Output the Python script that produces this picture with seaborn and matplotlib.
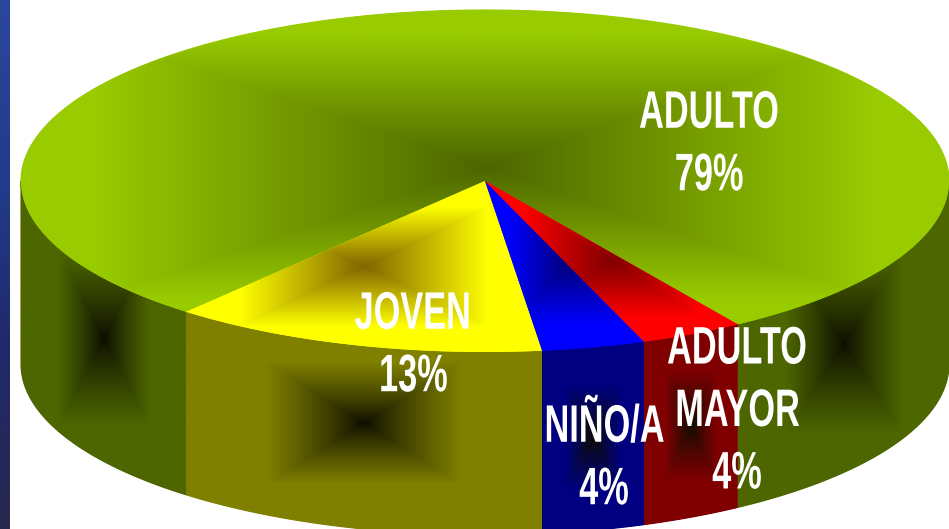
import numpy as np
import matplotlib.pyplot as plt
from matplotlib.patches import Polygon
from matplotlib.patheffects import AbstractPathEffect
from matplotlib.transforms import Affine2D
import seaborn as sns

# datos de la torta
grupos = ["ADULTO", "JOVEN", "NIÑO/A", "ADULTO\nMAYOR"]
valores = [79.7, 13.1, 3.6, 3.6]
porcentajes = [79, 13, 4, 4]

colores_top = ["#99cc00", "#ffff00", "#0000ff", "#ff0000"]
oscuros_top = ["#4d6600", "#806600", "#000080", "#800000"]
colores_lado = ["#4d6600", "#808000", "#000080", "#800000"]

# geometria en pixeles
CX, CY, RX, RY = 485, 181, 464, 171
PROF = 183
INICIO = 303.0
pos_texto = [(709, 145), (413, 346), (604, 459), (737, 412)]

sns.set_theme(style="white")
plt.rcParams['font.family'] = ['Liberation Sans', 'DejaVu Sans']


class Condensar(AbstractPathEffect):
    # angosta cada linea de texto alrededor de su centro (no hay fuente narrow)
    def __init__(self, fx):
        super().__init__()
        self.fx = fx

    def draw_path(self, renderer, gc, tpath, affine, rgbFace=None):
        caja = affine.transform_path(tpath).get_extents()
        xc = (caja.x0 + caja.x1) / 2
        nueva = affine + Affine2D().translate(-xc, 0).scale(self.fx, 1).translate(xc, 0)
        renderer.draw_path(gc, tpath, nueva, rgbFace)


def arco(a0, a1, dy=0):
    t = np.radians(np.linspace(a0, a1, 200))
    return np.column_stack([CX + RX * np.cos(t), CY + dy - RY * np.sin(t)])


def degradado(ax, pts, paleta, corte=1.0, gamma=1.0):
    # degradado rectangular desde el centro de la caja de la forma
    x0, y0 = pts.min(axis=0)
    x1, y1 = pts.max(axis=0)
    # base solida para que no queden hilos blancos entre tramos
    ax.add_patch(Polygon(pts, closed=True, fc=paleta[-1], ec=paleta[-1], lw=0.8, zorder=1.5))
    xx, yy = np.meshgrid(np.linspace(-1, 1, 400), np.linspace(-1, 1, 400))
    t = np.clip(np.maximum(np.abs(xx), np.abs(yy)) / corte, 0, 1) ** gamma
    cmap = sns.blend_palette(paleta, as_cmap=True)
    im = ax.imshow(t, cmap=cmap, vmin=0, vmax=1, extent=(x0, x1, y1, y0),
                   aspect='auto', interpolation='bilinear', zorder=2)
    forma = Polygon(pts, closed=True, transform=ax.transData, fc='none', ec='none')
    ax.add_patch(forma)
    im.set_clip_path(forma)


fig = plt.figure(figsize=(9.49, 5.29), dpi=100)
ax = fig.add_axes([0, 0, 1, 1])

# franja azul a la izquierda
franja = np.linspace(0, 1, 200).reshape(-1, 1)
ax.imshow(franja, cmap=sns.blend_palette(["#2b479c", "#223c8c", "#20286a", "#27284f"], as_cmap=True),
          extent=(0, 10, 529, 0), aspect='auto', zorder=1)

# angulos de cada tajada a partir de los valores
cortes = INICIO + np.cumsum([0] + [v * 3.6 for v in valores])
cortes_f = cortes - 360

# lados: adulto tiene dos tramos visibles
tramos = [
    (180, cortes_f[1], colores_lado[0]),
    (cortes_f[1], cortes_f[2], colores_lado[1]),
    (cortes_f[2], cortes_f[3], colores_lado[2]),
    (cortes_f[3], cortes_f[4], colores_lado[3]),
    (cortes_f[4], 360, colores_lado[0]),
]
for a0, a1, col in tramos:
    pts = np.vstack([arco(a0, a1), arco(a1, a0, PROF)])
    degradado(ax, pts, ["#0d0d00", col], corte=0.55, gamma=0.85)

# tapa superior
for i in range(len(valores)):
    pts = np.vstack([[CX, CY], arco(cortes[i], cortes[i + 1])])
    degradado(ax, pts, [oscuros_top[i], colores_top[i]], corte=0.85 if i == 0 else 0.7)

# rotulos
for g, p, (x, y) in zip(grupos, porcentajes, pos_texto):
    ax.text(x, y, f"{g}\n{p}%", color='white', ha='center', va='center',
            fontsize=38, fontweight='bold', linespacing=1.32, zorder=5,
            path_effects=[Condensar(0.65)])

ax.set_xlim(0, 949)
ax.set_ylim(529, 0)
ax.axis('off')
fig.savefig("out.png", dpi=100, facecolor='white')
